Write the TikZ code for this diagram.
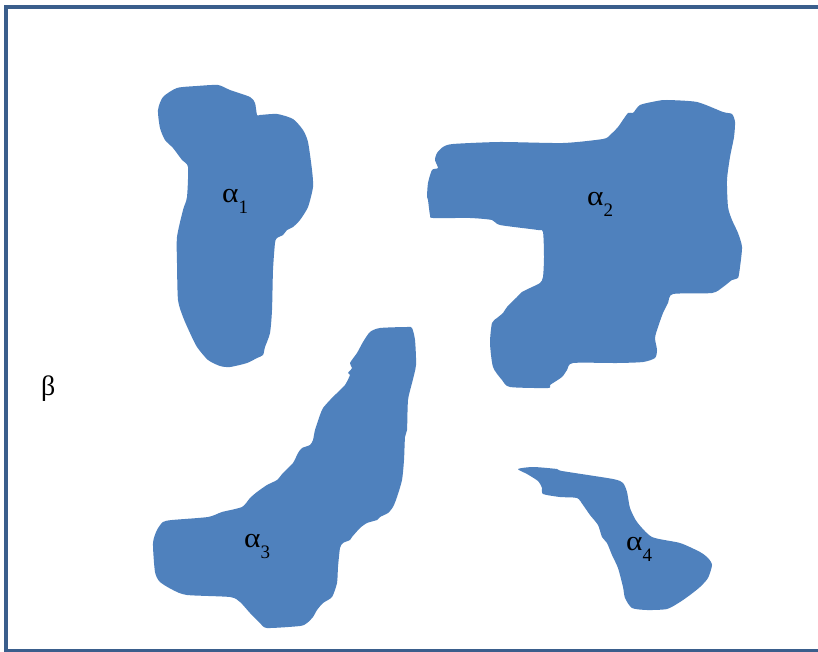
\documentclass[tikz,border=0pt]{standalone}
\usepackage{fontspec}
\setmainfont{Liberation Serif}
\definecolor{blobblue}{HTML}{4F81BD}
\definecolor{framec}{HTML}{3A5E8C}
\begin{document}
\begin{tikzpicture}[x=1pt,y=-1pt,
  blob/.style={fill=blobblue,draw=none},
  lab/.style={font=\fontsize{28}{30}\selectfont,inner sep=0pt,anchor=base west},
  framestyle/.style={draw=framec,line width=4pt}]
\useasboundingbox (0,0) rectangle (818,652);
\fill[white] (0,0) rectangle (818,652);
\draw[framestyle] (830,7.5) -- (6,7.5) -- (6,650.5) -- (830,650.5);
% blob 1
\fill[blob] plot[smooth cycle,tension=0.4] coordinates {
(158,110) (163,97) (177,88) (197,86) (218,85) (230,90) (250,97) (255,103) (257,115)
(260,115) (277,114) (293,119) (303,130) (308,142) (312,170) (313,187) (308,207)
(300,220) (293,227) (287,230) (283,235) (277,238) (275,243) (273,270) (272,310)
(270,333) (265,347) (263,355) (257,358) (247,363) (230,367) (220,366) (208,360)
(197,347) (190,333) (183,317) (178,300) (177,263) (177,237) (183,210) (187,197)
(188,167) (182,160) (173,148) (165,140) (160,128)};
% blob 2
\fill[blob] plot[smooth cycle,tension=0.4] coordinates {
(437,153) (443,147) (453,144) (500,142) (563,143) (603,139) (610,135) (618,127)
(628,113) (633,113) (640,105) (657,101) (667,100) (697,102) (723,112) (732,114)
(735,122) (734,137) (730,157) (727,180) (728,207) (732,220) (738,233) (742,247)
(740,267) (738,278) (732,280) (723,287) (712,293) (673,294) (668,303) (663,313)
(658,327) (655,338) (657,350) (655,358) (643,362) (617,363) (573,363) (567,370)
(562,377) (550,385) (548,388) (510,387) (502,380) (493,367) (490,343) (492,323)
(497,318) (503,313) (507,307) (517,297) (522,292) (530,288) (540,283) (543,277)
(544,257) (543,232) (538,230) (500,225) (492,220) (470,218) (433,218) (430,215)
(428,200) (427,197) (428,183) (432,170) (438,168) (435,160)};
% blob 3
\fill[blob] plot[smooth cycle,tension=0.4] coordinates {
(370,332) (380,328) (407,327) (412,328) (415,340) (416,365) (412,383) (408,400)
(407,430) (405,437) (404,460) (402,480) (397,497) (393,507) (388,513) (380,517)
(377,520) (367,523) (360,528) (352,537) (350,540) (343,543) (340,548) (338,567)
(337,583) (332,597) (323,603) (317,610) (313,617) (307,623) (300,626) (267,628)
(260,623) (250,613) (240,602) (230,597) (187,595) (173,590) (160,582) (155,572)
(153,543) (157,530) (163,522) (172,520) (208,517) (222,512) (242,507) (250,498)
(257,492) (267,485) (277,480) (283,473) (293,463) (298,453) (302,448) (310,445)
(313,440) (315,430) (320,415) (323,408) (330,400) (337,393) (345,385) (350,375)
(348,373) (352,368) (350,363) (357,353) (363,342)};
% blob 4
\fill[blob] plot[smooth cycle,tension=0.4] coordinates {
(518,469) (533,467) (557,469) (562,471) (613,479) (623,483) (627,492) (630,508)
(637,522) (652,537) (680,543) (700,552) (708,558) (712,565) (708,578) (700,587)
(690,595) (680,602) (667,609) (647,610) (632,608) (625,598) (623,587) (618,568)
(612,555) (607,543) (602,537) (598,525) (590,515) (583,505) (577,498) (560,497)
(543,494) (542,488) (538,481) (527,474)};
% labels
\newcommand{\sublab}[1]{\raisebox{-11pt}{\fontsize{19}{20}\selectfont #1}}
\node[lab] (a1) at (222,203) {\scalebox{1.12}[1]{α}\sublab{1}};
\node[lab] (a2) at (587,206) {\scalebox{1.12}[1]{α}\sublab{2}};
\node[lab] (a3) at (244,547) {\scalebox{1.12}[1]{α}\sublab{3}};
\node[lab] (a4) at (626,550) {\scalebox{1.12}[1]{α}\sublab{4}};
\node[lab] (b) at (41,395) {β};
\end{tikzpicture}
\end{document}
